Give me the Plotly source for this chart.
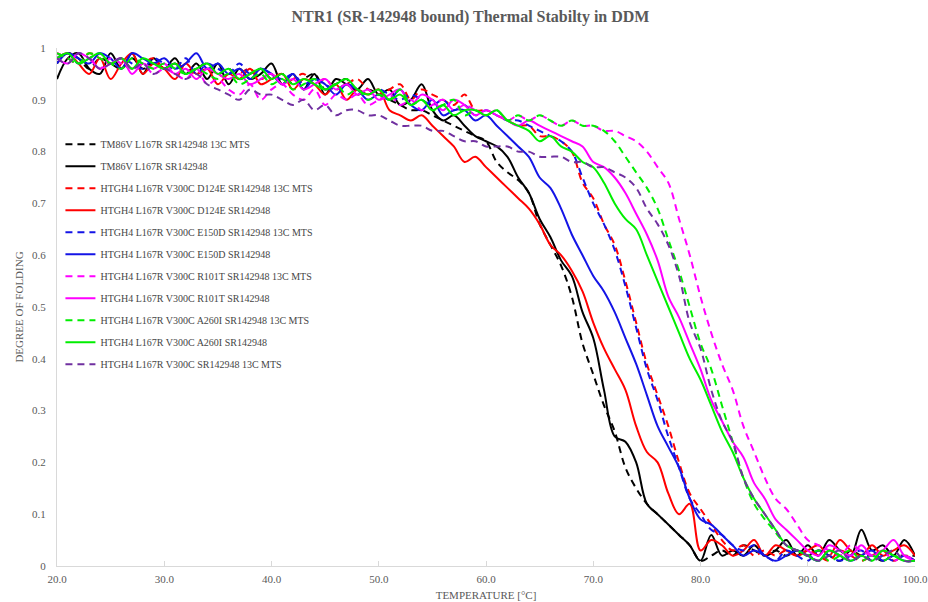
import plotly.graph_objects as go

temperature = list(range(20, 101))

tm86v_13c = [
    .97, .99, .98, .96, .98, .97, .96, .98, .96, .97,
    .96, .97, .95, .96, .97, .95, .96, .94, .95, .96,
    .94, .95, .93, .94, .95, .92, .93, .94, .91, .92,
    .91, .90, .89, .88, .88, .87, .86, .85, .84, .83,
    .82, .78, .76, .745, .72, .66, .62, .58, .52, .43,
    .37, .31, .26, .19, .15, .12, .10, .08, .06, .04,
    .01, .02, .03, .02, .04, .03, .02, .03, .02, .03,
    .02, .03, .02, .01, .03, .02, .02, .01, .02, .02,
    .02]
tm86v = [
    .94, .98, .99, .96, .95, .99, .96, .99, .95, .98,
    .96, .98, .95, .97, .94, .97, .93, .96, .94, .95,
    .97, .93, .95, .92, .95, .91, .94, .93, .92, .94,
    .91, .92, .89, .90, .93, .88, .86, .87, .85, .83,
    .82, .81, .79, .75, .72, .67, .635, .59, .56, .49,
    .44, .34, .25, .24, .20, .12, .10, .08, .06, .04,
    .01, .06, .02, .03, .02, .04, .02, .03, .05, .02,
    .04, .02, .05, .03, .02, .07, .03, .04, .02, .05,
    .02]
d124e_13c = [
    .99, .98, .97, .99, .98, .97, .98, .96, .97, .98,
    .96, .97, .96, .95, .96, .95, .94, .95, .96, .94,
    .95, .93, .94, .95, .93, .94, .92, .93, .94, .92,
    .91, .92, .93, .90, .92, .91, .90, .89, .91, .88,
    .88, .87, .86, .85, .85, .83, .83, .82, .80, .74,
    .71, .66, .62, .55, .47, .39, .33, .27, .20, .14,
    .11, .08, .05, .03, .04, .02, .03, .02, .03, .02,
    .03, .02, .01, .03, .02, .01, .02, .03, .01, .02,
    .01]
d124e = [
    .98, .99, .97, .95, .98, .94, .97, .99, .95, .97,
    .96, .94, .97, .95, .96, .93, .95, .94, .96, .93,
    .94, .95, .92, .94, .93, .91, .93, .90, .92, .91,
    .92, .88, .87, .86, .87, .85, .83, .81, .78, .79,
    .77, .75, .73, .71, .69, .66, .62, .60, .57, .53,
    .47, .42, .38, .34, .27, .22, .20, .14, .10, .12,
    .03, .05, .04, .02, .03, .05, .02, .04, .03, .02,
    .03, .04, .02, .05, .03, .02, .04, .02, .03, .04,
    .02]
e150d_13c = [
    .98, .99, .97, .98, .99, .97, .98, .97, .96, .98,
    .97, .96, .98, .95, .97, .96, .95, .97, .95, .96,
    .95, .94, .95, .93, .94, .93, .92, .93, .92, .91,
    .92, .91, .90, .91, .90, .89, .90, .88, .89, .87,
    .88, .87, .86, .86, .85, .84, .83, .82, .80, .75,
    .70, .66, .61, .54, .46, .38, .32, .25, .19, .13,
    .10, .07, .06, .04, .03, .04, .02, .01, .03, .02,
    .01, .03, .02, .01, .02, .03, .01, .02, .01, .02,
    .01]
e150d = [
    .97, .99, .98, .97, .99, .98, .96, .99, .98, .97,
    .98, .96, .97, .99, .96, .97, .95, .96, .94, .96,
    .95, .93, .95, .92, .94, .93, .91, .93, .92, .90,
    .91, .90, .92, .89, .88, .90, .87, .88, .88, .86,
    .87, .85, .83, .81, .79, .75, .73, .69, .64, .60,
    .56, .53, .49, .44, .39, .33, .27, .23, .19, .13,
    .09, .08, .06, .04, .02, .03, .02, .01, .02, .03,
    .02, .01, .03, .02, .01, .02, .03, .01, .02, .01,
    .01]
r101t_13c = [
    .99, .98, .97, .98, .96, .98, .97, .96, .97, .95,
    .96, .95, .94, .96, .93, .94, .92, .91, .93, .90,
    .92, .93, .91, .90, .92, .89, .91, .90, .91, .89,
    .90, .91, .89, .90, .88, .89, .90, .88, .89, .88,
    .87, .88, .86, .87, .86, .87, .86, .85, .86, .85,
    .85, .84, .84, .83, .82, .80, .77, .74, .67, .60,
    .52, .45, .39, .34, .27, .22, .17, .13, .11, .08,
    .05, .04, .03, .02, .04, .03, .02, .03, .01, .02,
    .01]
r101t = [
    .98, .97, .99, .98, .96, .97, .98, .95, .97, .96,
    .97, .95, .96, .94, .96, .95, .94, .95, .93, .94,
    .95, .93, .94, .92, .93, .94, .92, .93, .91, .92,
    .90, .91, .92, .89, .91, .90, .88, .90, .89, .87,
    .88, .87, .86, .85, .86, .85, .84, .83, .82, .81,
    .78, .77, .75, .72, .68, .64, .59, .52, .48, .43,
    .38, .32, .28, .24, .21, .16, .13, .09, .07, .05,
    .03, .02, .04, .03, .02, .04, .02, .03, .05, .02,
    .01]
a260i_13c = [
    .99, .98, .97, .99, .98, .97, .96, .98, .97, .96,
    .97, .96, .95, .96, .95, .94, .95, .93, .94, .95,
    .93, .94, .92, .93, .94, .92, .93, .91, .92, .90,
    .91, .90, .92, .89, .90, .88, .89, .90, .87, .88,
    .87, .88, .86, .87, .86, .87, .86, .85, .86, .85,
    .85, .84, .82, .79, .76, .73, .69, .63, .57, .50,
    .43, .38, .31, .24, .17, .12, .09, .065, .04, .03,
    .02, .03, .01, .02, .03, .01, .02, .01, .02, .01,
    .01]
a260i = [
    .98, .99, .97, .98, .99, .97, .98, .96, .98, .97,
    .96, .97, .95, .96, .97, .95, .96, .94, .95, .96,
    .94, .95, .93, .94, .93, .92, .93, .94, .92, .91,
    .92, .90, .91, .89, .90, .88, .89, .87, .88, .88,
    .87, .88, .86, .85, .84, .82, .83, .81, .80, .78,
    .77, .74, .70, .67, .65, .60, .55, .50, .45, .40,
    .36, .31, .26, .22, .17, .13, .10, .07, .04, .03,
    .02, .01, .03, .02, .01, .02, .01, .03, .02, .01,
    .01]
v300c_13c = [
    .98, .97, .99, .98, .96, .97, .98, .96, .97, .95,
    .96, .95, .94, .95, .93, .92, .91, .90, .92, .91,
    .91, .90, .89, .90, .88, .89, .87, .88, .88, .87,
    .87, .86, .85, .85, .85, .84, .84, .83, .82, .82,
    .81, .81, .81, .80, .80, .79, .79, .79, .78, .78,
    .77, .77, .76, .75, .73, .69, .66, .62, .56, .47,
    .42, .34, .28, .24, .17, .13, .10, .07, .04, .03,
    .02, .01, .02, .03, .01, .02, .01, .02, .03, .01,
    .01]

series_names = [
    "TM86V L167R SR142948 13C MTS",
    "TM86V L167R SR142948",
    "HTGH4 L167R V300C D124E SR142948 13C MTS",
    "HTGH4 L167R V300C D124E SR142948",
    "HTGH4 L167R V300C E150D SR142948 13C MTS",
    "HTGH4 L167R V300C E150D SR142948",
    "HTGH4 L167R V300C R101T SR142948 13C MTS",
    "HTGH4 L167R V300C R101T SR142948",
    "HTGH4 L167R V300C A260I SR142948 13C MTS",
    "HTGH4 L167R V300C A260I SR142948",
    "HTGH4 L167R V300C SR142948 13C MTS",
]
series_values = [tm86v_13c, tm86v, d124e_13c, d124e, e150d_13c, e150d,
                 r101t_13c, r101t, a260i_13c, a260i, v300c_13c]
series_colors = ["#000000", "#000000", "#FF0000", "#FF0000", "#1414E6", "#1414E6",
                 "#FF00FF", "#FF00FF", "#00EE00", "#00EE00", "#7030A0"]
series_dashed = [True, False, True, False, True, False, True, False, True, False, True]

FONT = "Liberation Serif"
GREY = "#595959"

fig = go.Figure()
for i, (name, vals, col, dashed) in enumerate(zip(series_names, series_values,
                                                   series_colors, series_dashed)):
    fig.add_trace(go.Scatter(
        x=temperature, y=vals, name=name, mode="lines",
        line=dict(color=col, width=2, dash="7px,5px" if dashed else "solid",
                  shape="spline", smoothing=1.0),
        legendgroup=f"g{i}",
    ))

fig.update_layout(
    width=928, height=602,
    margin=dict(l=57, r=13, t=48, b=36, autoexpand=False),
    paper_bgcolor="white", plot_bgcolor="white",
    font=dict(family=FONT, color=GREY, size=11),
    title=dict(text="<b>NTR1 (SR-142948 bound) Thermal Stabilty in DDM</b>",
               x=0.507, xref="container", xanchor="center",
               y=0.972, yref="container", yanchor="middle",
               font=dict(family=FONT, size=16, color=GREY)),
    showlegend=True,
    legend=dict(x=0.004, y=0.842, xanchor="left", yanchor="top",
                bgcolor="rgba(0,0,0,0)", traceorder="grouped",
                tracegroupgap=3,
                font=dict(family=FONT, size=10, color="#454545")),
    xaxis=dict(range=[20, 100], tickmode="linear", tick0=20, dtick=10,
               tickformat=".1f", showgrid=False, zeroline=False,
               showline=True, linecolor="#D9D9D9", linewidth=1,
               ticks="inside", ticklen=5, tickcolor="#D9D9D9",
               automargin=False, ticklabelstandoff=3,
               tickfont=dict(family=FONT, size=11, color=GREY),
               title=dict(text="TEMPERATURE [°C]", standoff=7,
                          font=dict(family=FONT, size=11, color=GREY))),
    yaxis=dict(range=[0, 1], tickmode="linear", tick0=0, dtick=0.1,
               showgrid=False, zeroline=False,
               showline=True, linecolor="#D9D9D9", linewidth=1,
               ticks="", ticklabelstandoff=8, automargin=False,
               tickfont=dict(family=FONT, size=11, color=GREY),
               title=dict(text="DEGREE OF FOLDING", standoff=6,
                          font=dict(family=FONT, size=11, color=GREY))),
)

fig.write_html("out.html")
